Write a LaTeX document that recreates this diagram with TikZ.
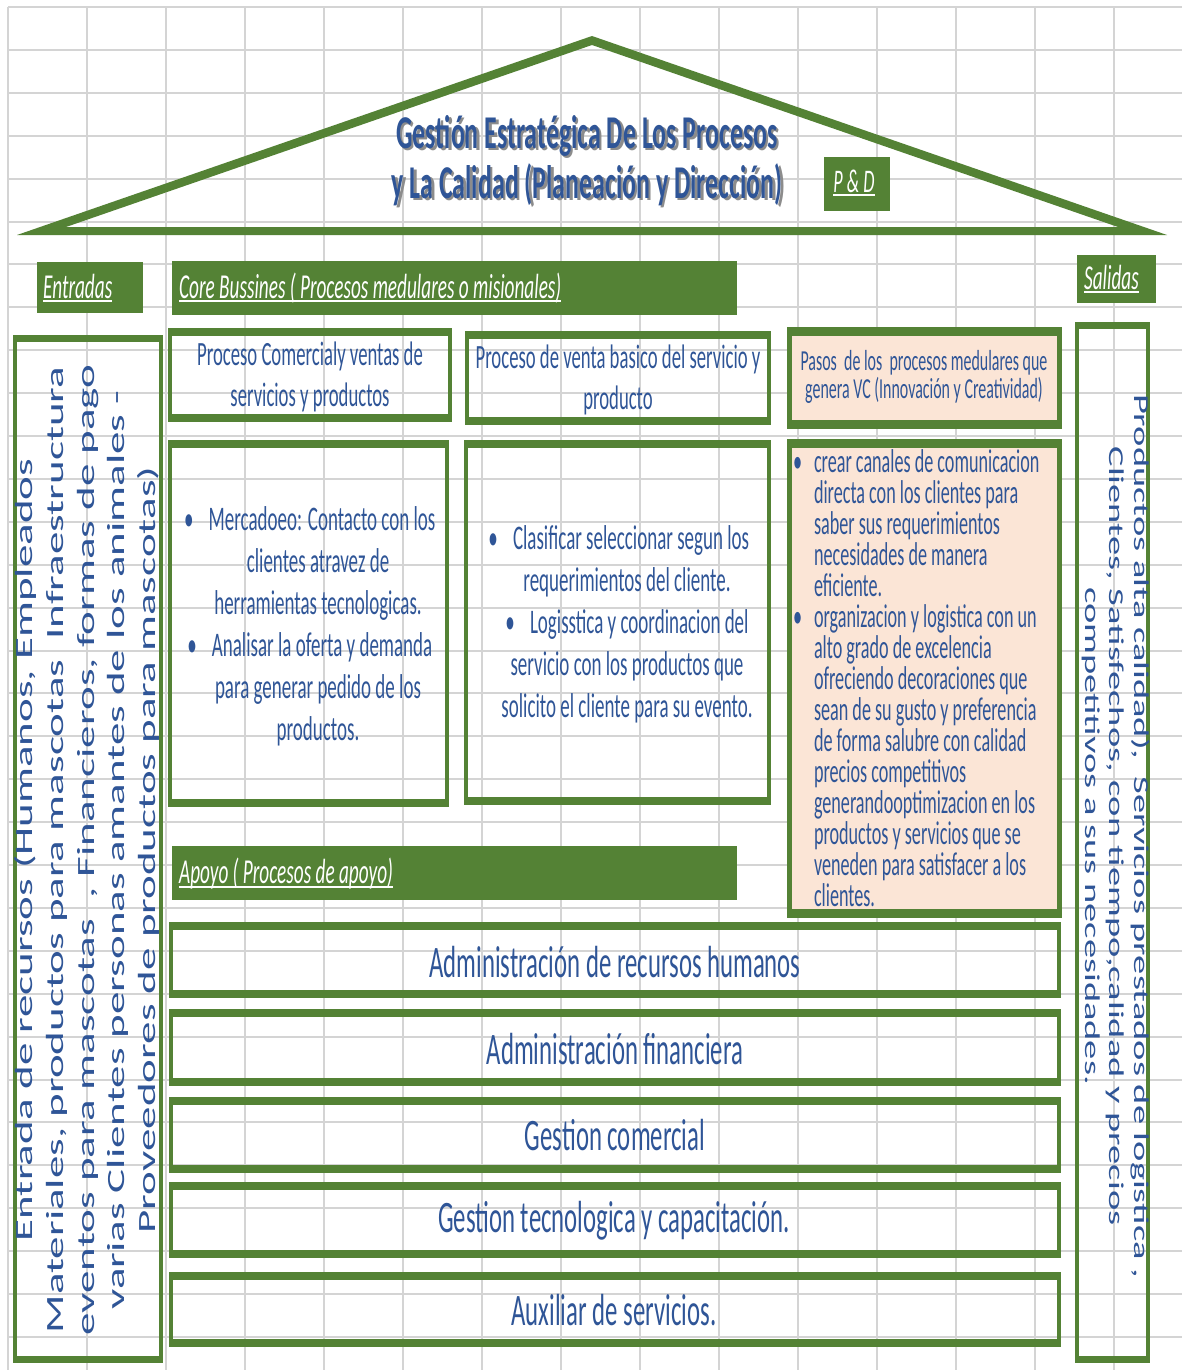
\documentclass[tikz,border=0pt]{standalone}
\usepackage{fontspec}
\setmainfont{Carlito}

\definecolor{verde}{HTML}{548235}
\definecolor{azul}{HTML}{2F5597}
\definecolor{salmon}{HTML}{FBE5D6}
\definecolor{rejilla}{HTML}{D4D4D4}

\newsavebox{\cajasub}
\newcommand{\subr}[1]{\sbox\cajasub{#1}\rlap{\rule[-4pt]{\wd\cajasub}{2pt}}\usebox\cajasub}
\newcommand{\fs}[2]{\fontsize{#1}{#2}\selectfont\lineskiplimit=-60pt}
\newcommand{\vinneta}{\makebox[38pt][l]{\textbullet}}
\newcommand{\sangria}{\hspace*{38pt}}
\newcommand{\punto}[1]{\textbullet\hspace{0.8em}#1\hspace*{30pt}}

\tikzset{
	marco/.style={draw=verde,line width=8pt},
	etiqueta/.style={anchor=west,text=white,inner sep=0pt,font={\fs{35}{42}\itshape}},
	texto/.style={text=azul,align=center,inner sep=0pt},
	apoyotxt/.style={texto,font={\fs{45}{54}}},
}

\begin{document}
\begin{tikzpicture}[x=1pt,y=-1pt]
	\path[fill=white,use as bounding box] (0,0) rectangle (1182,1370);
	\begin{scope}[x=1.81818pt,transform canvas={xscale=0.55}]
	\foreach \k in {0,...,31} \draw[rejilla,line width=2pt] (8,7+42.9*\k)--(1182,7+42.9*\k);
	\foreach \k in {0,...,14} \draw[rejilla,line width=2pt] (8+79*\k,7)--(8+79*\k,1370);
	\fill[verde,even odd rule] (17,235)--(592,36)--(1167,235)--cycle (66,227)--(592,45)--(1118,227)--cycle;
	\node[text=black!45,align=center,inner sep=0pt,font={\fs{47}{50}\bfseries}] (sombra) at (589.5,163) {Gestión Estratégica De Los Procesos\\y La Calidad (Planeación y Dirección)};
	\node[text=azul,align=center,inner sep=0pt,font={\fs{47}{50}\bfseries}] (titulo) at (587,161) {Gestión Estratégica De Los Procesos\\y La Calidad (Planeación y Dirección)};
	\fill[verde] (824,157) rectangle (890,211);
	\node[etiqueta,anchor=center,font={\fs{33}{40}\itshape}] (pd) at (854,183) {\subr{P \& D}};
	\fill[verde] (37,262) rectangle (143,313);
	\node[etiqueta] (entradas) at (43,288) {\subr{Entradas}};
	\fill[verde] (172,261) rectangle (737,315);
	\node[etiqueta] (core) at (179,288) {\subr{Core Bussines ( Procesos medulares o misionales)}};
	\fill[verde] (1077,255) rectangle (1156,303);
	\node[etiqueta] (salidas) at (1084,279) {\subr{Salidas}};
	\fill[verde] (172,846) rectangle (737,900);
	\node[etiqueta] (apoyo) at (179,874) {\subr{Apoyo ( Procesos de apoyo)}};

	\draw[marco,line width=7pt] (15,338.5) rectangle (161,1359.5);
	\node[texto,rotate=90,font={\fs{45}{56}}] (recursos) at (87,850) {Entrada de recursos (Humanos, Empleados\\Materiales, productos para mascotas~ Infraestructura\\eventos para mascotas~ , Financieros, formas de pago\\varias Clientes personas amantes de los animales -\\Proveedores de productos para mascotas)};
	\draw[marco,line width=7pt] (1077,325.5) rectangle (1148,1359.5);
	\node[texto,rotate=-90,font={\fs{38.5}{44}}] (productos) at (1116,836) {Productos alta calidad),~ Servicios prestados de logistica ,\\Clientes, Satisfechos, con tiempo,calidad y precios\\competitivos a sus necesidades.};

	\draw[marco] (170,332) rectangle (450,418);
	\node[texto,font={\fs{34}{41}}] (comercial) at (310,377) {Proceso Comercialy ventas de\\servicios y productos};
	\draw[marco] (467,335) rectangle (769,421);
	\node[texto,font={\fs{34}{41}}] (venta) at (618,380) {Proceso de venta basico del servicio y\\producto};
	\draw[marco,fill=salmon,line width=9pt] (789.5,331.5) rectangle (1059.5,424.5);
	\node[texto,font={\fs{29}{28}}] (pasos) at (924,377) {Pasos~ de los~ procesos medulares que\\genera VC (Innovación y Creatividad)};

	\draw[marco] (170,444) rectangle (447,803);
	\node[texto,font={\fs{34.5}{42}}] (mercadeo) at (318,626) {\punto{Mercadoeo: Contacto con los}\\clientes atravez de\\herramientas tecnologicas.\\\punto{Analisar la oferta y demanda}\hspace*{36pt}\\para generar pedido de los\\productos.};
	\draw[marco] (466,444) rectangle (769,801);
	\node[texto,font={\fs{34.5}{42}}] (clasificar) at (627,624) {\punto{Clasificar seleccionar segun los}\\requerimientos del cliente.\\\punto{Logisstica y coordinacion del}\\servicio con los productos que\\solicito el cliente para su evento.};
	\draw[marco,fill=salmon,line width=9pt] (789.5,443.5) rectangle (1059.5,913.5);
	\node[texto,align=left,anchor=west,font={\fs{33}{31}}] (canales) at (793,678) {\vinneta crear canales de comunicacion\\\sangria directa con los clientes para\\\sangria saber sus requerimientos\\\sangria necesidades de manera\\\sangria eficiente.\\\vinneta organizacion y logistica con un\\\sangria alto grado de excelencia\\\sangria ofreciendo decoraciones que\\\sangria sean de su gusto y preferencia\\\sangria de forma salubre con calidad\\\sangria precios competitivos\\\sangria generandooptimizacion en los\\\sangria productos y servicios que se\\\sangria veneden para satisfacer a los\\\sangria clientes.};

	\draw[marco] (171.2,926) rectangle (1058.8,994);
	\node[apoyotxt] (humanos) at (615,962) {Administración de recursos humanos};
	\draw[marco] (171.2,1013) rectangle (1058.8,1082);
	\node[apoyotxt] (financiera) at (615,1049) {Administración financiera};
	\draw[marco] (171.2,1101) rectangle (1058.8,1169);
	\node[apoyotxt] (gcomercial) at (615,1135) {Gestion comercial};
	\draw[marco] (171.2,1186) rectangle (1058.8,1254);
	\node[apoyotxt] (tecnologica) at (614,1221) {Gestion tecnologica y capacitación.};
	\draw[marco] (171.2,1276) rectangle (1058.8,1343);
	\node[apoyotxt] (auxiliar) at (614,1310) {Auxiliar de servicios.};
	\end{scope}
\end{tikzpicture}
\end{document}
